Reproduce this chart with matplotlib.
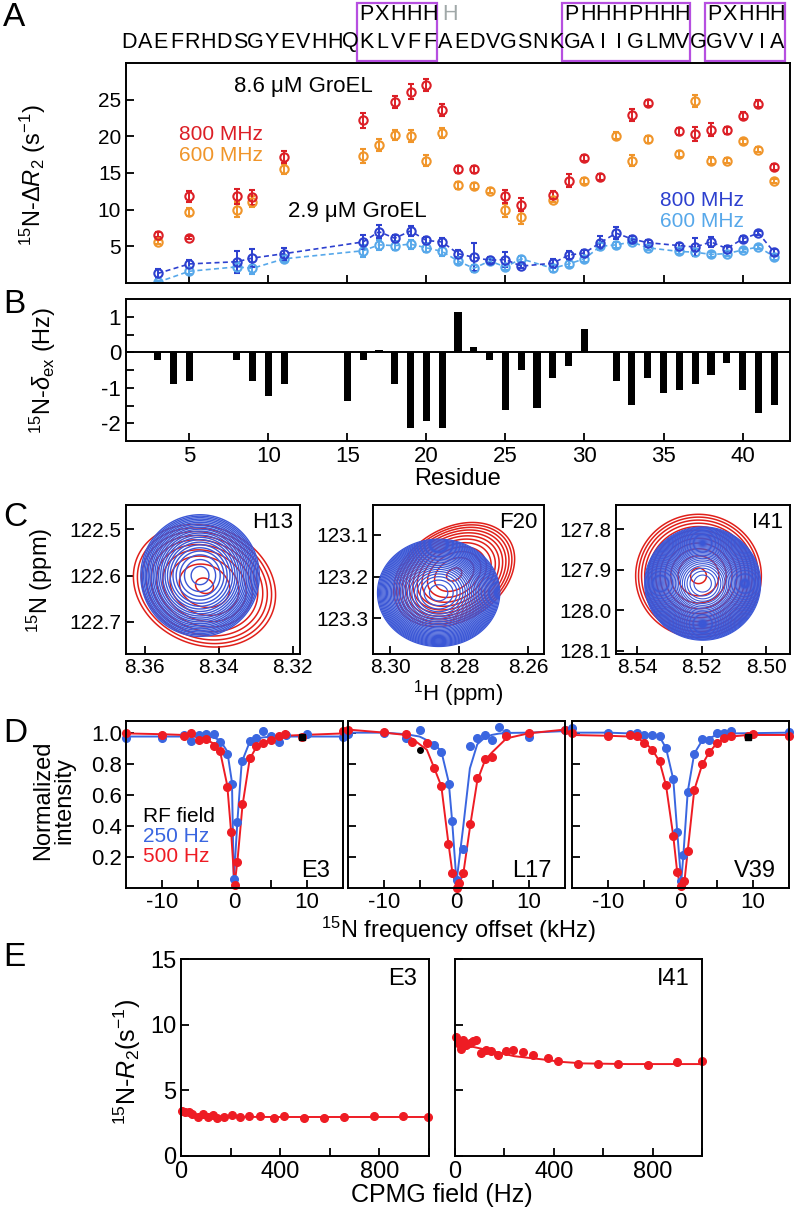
import numpy as np
import matplotlib
matplotlib.use("Agg")
import matplotlib.pyplot as plt
from matplotlib.patches import Rectangle
from matplotlib.transforms import blended_transform_factory

REG = ["Liberation Sans", "DejaVu Sans"]
plt.rcParams["font.family"] = REG
plt.rcParams["mathtext.fontset"] = "custom"
plt.rcParams["mathtext.rm"] = "Liberation Sans"
plt.rcParams["mathtext.it"] = "Liberation Sans:italic"
plt.rcParams["axes.unicode_minus"] = False
plt.rcParams["axes.linewidth"] = 1.4
plt.rcParams["xtick.direction"] = "in"
plt.rcParams["ytick.direction"] = "in"
plt.rcParams["xtick.major.width"] = 1.3
plt.rcParams["ytick.major.width"] = 1.3
plt.rcParams["xtick.minor.width"] = 1.3
plt.rcParams["ytick.minor.width"] = 1.3

# ---------------- data ----------------
# A: sequence and motifs
seq = "DAEFRHDSGYEVHHQKLVFFAEDVGSNKGAIIGLMVGGVVIA"
motif_start = [16, 29, 38]
motif_end = [20, 36, 42]
motif_code = ["PXHHH", "PHHHPHHH", "PXHHH"]
extra_code_res = 21

# A: 8.6 uM GroEL
res_hi_800 = [3, 5, 5, 8, 9, 11, 16, 18, 19, 20, 21, 22, 23, 25, 26, 28, 29, 30, 31,
              33, 34, 36, 37, 38, 39, 40, 41, 42]
r2_hi_800 = [6.6, 11.8, 6.2, 11.8, 11.7, 17.2, 22.2, 24.7, 26.1, 27.0, 23.6, 15.5, 15.5,
             11.8, 10.7, 12.0, 13.95, 17.0, 14.4, 22.95, 24.6, 20.7, 20.3, 20.9, 20.8,
             22.8, 24.45, 15.8]
err_hi_800 = [0.3, 0.7, 0.2, 1.0, 1.0, 0.8, 1.0, 0.8, 1.0, 0.8, 0.8, 0.5, 0.5, 0.9, 0.9,
              0.5, 0.9, 0.4, 0.4, 0.8, 0.4, 0.5, 1.0, 0.9, 0.5, 0.5, 0.5, 0.4]
res_hi_600 = [3, 5, 8, 9, 11, 16, 17, 18, 19, 20, 21, 22, 23, 24, 25, 26, 28, 30,
              32, 33, 34, 36, 37, 38, 39, 40, 41, 42]
r2_hi_600 = [5.6, 9.7, 10.0, 11.1, 15.5, 17.3, 18.8, 20.2, 20.0, 16.7, 20.5, 13.3, 13.2,
             12.6, 9.9, 9.0, 11.3, 13.9, 20.1, 16.7, 19.6, 17.6, 24.8, 16.7, 16.7, 19.3,
             18.2, 13.9]
err_hi_600 = [0.3, 0.5, 1.0, 0.8, 0.7, 1.0, 0.8, 0.7, 0.8, 0.8, 0.7, 0.5, 0.4, 0.3, 0.9,
              0.9, 0.3, 0.4, 0.5, 0.8, 0.5, 0.4, 0.8, 0.5, 0.4, 0.4, 0.4, 0.3]

# A: 2.9 uM GroEL
res_lo = [3, 5, 8, 9, 11, 16, 17, 18, 19, 20, 21, 22, 23, 24, 25, 26, 28, 29, 30, 31,
          32, 33, 34, 36, 37, 38, 39, 40, 41, 42]
r2_lo_800 = [1.3, 2.6, 2.9, 3.4, 4.0, 5.6, 7.0, 6.1, 7.1, 5.8, 5.6, 4.0, 3.5, 3.1, 3.2,
             2.3, 2.7, 3.8, 4.1, 5.5, 6.8, 6.0, 5.5, 5.1, 4.9, 5.6, 4.7, 6.0, 6.8, 4.2]
err_lo_800 = [0.6, 0.6, 1.5, 1.2, 0.8, 1.0, 0.9, 0.5, 0.7, 0.5, 0.6, 0.5, 1.9, 0.4, 1.0,
              0.3, 0.6, 0.5, 0.4, 0.9, 0.8, 0.4, 0.3, 0.3, 1.2, 0.7, 0.3, 0.4, 0.3, 0.4]
r2_lo_600 = [0.1, 1.6, 2.2, 2.0, 3.3, 4.4, 5.2, 5.1, 5.3, 4.8, 4.3, 3.0, 2.0, 3.0, 2.2,
             3.3, 2.0, 2.6, 3.3, 5.0, 5.2, 5.6, 4.8, 4.3, 4.2, 3.9, 4.0, 4.5, 4.9, 3.6]
err_lo_600 = [0.2, 0.4, 0.6, 0.8, 0.5, 0.8, 0.7, 0.6, 0.6, 0.6, 0.6, 0.4, 0.5, 0.3, 0.4,
              0.4, 0.5, 0.4, 0.4, 0.5, 0.4, 0.3, 0.3, 0.3, 0.5, 0.3, 0.3, 0.3, 0.3, 0.4]

# B: 15N delta_ex
res_b = [3, 4, 5, 8, 9, 10, 11, 15, 16, 17, 18, 19, 20, 21, 22, 23, 24, 25, 26, 27, 28,
         29, 30, 32, 33, 34, 35, 36, 37, 38, 39, 40, 41, 42]
dex_b = [-0.22, -0.9, -0.8, -0.22, -0.8, -1.22, -0.9, -1.38, -0.22, 0.07, -0.9, -2.12,
         -1.95, -2.12, 1.13, 0.15, -0.22, -1.63, -0.5, -1.57, -0.72, -0.4, 0.65, -0.8,
         -1.48, -0.72, -1.15, -1.07, -0.9, -0.65, -0.3, -1.07, -1.72, -1.48]

# C: HSQC peaks (800 MHz) -- red: with GroEL, blue: reference
c_names = ["H13", "F20", "I41"]
c_xlim = [(8.365, 8.318), (8.305, 8.2555), (8.5466, 8.4926)]
c_ylim = [(122.769, 122.448), (123.386, 123.028), (128.108, 127.74)]
c_xticks = [[8.36, 8.34, 8.32], [8.30, 8.28, 8.26], [8.54, 8.52, 8.50]]
c_yticks = [[122.5, 122.6, 122.7], [123.1, 123.2, 123.3], [127.8, 127.9, 128.0, 128.1]]
blue_h0 = [8.3450, 8.2860, 8.5197]
blue_n0 = [122.600, 123.239, 127.934]
blue_hw_h = [0.0160, 0.0177, 0.0180]
blue_hw_n = [0.131, 0.129, 0.140]
blue_nlev = [22, 30, 40]
red_h0 = [8.3438, 8.2815, 8.5210]
red_n0 = [122.622, 123.195, 127.915]
red_hw_h = [0.0192, 0.0175, 0.0195]
red_hw_n = [0.132, 0.125, 0.152]
red_rho = [-0.15, 0.3, 0.0]
red_nlev = [10, 12, 12]

# D: CEST profiles
d_names = ["E3", "L17", "V39"]
d_off_blue = [
    [-15, -10, -7, -6, -4.9, -3.9, -2.9, -2, -1, -0.35, -0.1, 0.4, 1.0, 2.1, 3.0, 4.0, 5.0, 6.1, 7.1, 10, 15],
    [-15, -10, -7, -5.1, -3.15, -2.1, -1.07, -0.6, 0, 0.92, 1.85, 2.87, 3.9, 4.85, 5.87, 6.9, 10, 15],
    [-15, -10, -7, -6, -5, -3.9, -2.9, -2, -1, -0.45, 0.1, 0.4, 1.0, 1.9, 3.0, 4.0, 5.0, 6.0, 7.0, 15],
]
d_int_blue = [
    [0.968, 0.963, 0.985, 0.946, 0.985, 0.99, 0.99, 0.94, 0.865, 0.67, 0.06, 0.426, 0.82, 0.946, 0.963, 1.01, 0.978, 0.94, 0.985, 0.99, 0.97],
    [0.99, 1.0, 0.963, 1.015, 0.92, 0.877, 0.67, 0.43, 0.054, 0.25, 0.914, 0.963, 0.985, 0.95, 1.037, 1.0, 0.97, 1.015],
    [1.03, 1.0, 0.994, 1.0, 0.985, 0.985, 0.978, 0.903, 0.703, 0.36, 0.043, 0.215, 0.62, 0.865, 0.957, 0.95, 1.0, 1.0, 1.01, 1.006],
]
d_fit_blue = [
    [0.975, 0.975, 0.975, 0.975, 0.975, 0.973, 0.97, 0.95, 0.88, 0.68, 0.04, 0.43, 0.81, 0.94, 0.96, 0.97, 0.973, 0.975, 0.975, 0.975, 0.975],
    [1.0, 1.0, 0.99, 0.975, 0.93, 0.88, 0.68, 0.43, 0.04, 0.39, 0.77, 0.925, 0.968, 0.985, 0.994, 0.998, 1.0, 1.01],
    [1.0, 1.0, 0.995, 0.993, 0.99, 0.985, 0.975, 0.9, 0.7, 0.36, 0.04, 0.215, 0.62, 0.865, 0.95, 0.965, 0.985, 0.99, 0.995, 1.0],
]
d_off_red = [
    [-15, -10, -7, -6, -4.9, -3.9, -2.9, -2, -1, -0.45, 0, 0.4, 1.1, 2.1, 3.0, 4.0, 5.0, 6.1, 7.0, 9.3, 15],
    [-15, -10, -7, -6.1, -4.1, -3.15, -2.1, -1.15, -0.6, 0, 0.33, 0.92, 1.93, 2.87, 3.9, 4.85, 6.9, 10, 15],
    [-15, -10, -7, -6, -5, -3.9, -2.9, -2, -1, -0.45, 0, 0.55, 1.0, 1.9, 3.0, 4.0, 5.0, 6.0, 7.0, 9.3, 10, 15],
]
d_int_red = [
    [1.0, 0.985, 0.978, 1.0, 0.953, 0.96, 0.914, 0.88, 0.65, 0.36, 0.017, 0.17, 0.54, 0.834, 0.914, 0.935, 0.95, 0.98, 0.994, 0.97, 1.01],
    [1.02, 1.006, 0.99, 0.94, 0.935, 0.774, 0.656, 0.284, 0.097, 0.0, 0.032, 0.097, 0.413, 0.705, 0.828, 0.843, 0.98, 1.0, 1.02],
    [1.0, 0.978, 0.985, 0.978, 0.935, 0.888, 0.817, 0.662, 0.333, 0.103, 0.01, 0.043, 0.24, 0.634, 0.796, 0.877, 0.935, 0.963, 0.978, 0.978, 0.994, 0.978],
]
d_fit_red = [
    [0.995, 0.99, 0.985, 0.98, 0.97, 0.955, 0.93, 0.88, 0.66, 0.35, 0.02, 0.17, 0.53, 0.83, 0.905, 0.935, 0.955, 0.97, 0.98, 0.985, 0.995],
    [1.02, 1.0, 0.985, 0.96, 0.89, 0.78, 0.656, 0.3, 0.11, 0.0, 0.03, 0.086, 0.413, 0.69, 0.817, 0.87, 0.963, 0.996, 1.02],
    [0.985, 0.98, 0.975, 0.965, 0.94, 0.89, 0.815, 0.66, 0.335, 0.1, 0.01, 0.045, 0.24, 0.63, 0.795, 0.875, 0.93, 0.96, 0.975, 0.985, 0.985, 0.985],
]
d_black_x = [9.3, -5.1, 9.3]
d_black_y = [0.975, 0.89, 0.975]
d_black_marker = ["s", "o", "s"]

# E: CPMG relaxation dispersion
e_names = ["E3", "I41"]
e_cpmg = [
    [4, 18, 32, 46, 67, 87, 108, 129, 147, 175, 206, 237, 275, 317, 376, 417, 497, 576, 657, 778, 896, 997],
    [3, 14, 24, 33, 45, 59, 73, 86, 105, 126, 145, 174, 205, 236, 275, 317, 377, 417, 498, 579, 658, 780, 898, 1000],
]
e_r2 = [
    [3.46, 3.38, 3.33, 3.2, 2.95, 3.2, 2.95, 3.15, 2.9, 2.95, 3.13, 2.95, 3.08, 3.03, 2.9, 3.08, 2.9, 2.9, 2.95, 3.05, 3.08, 3.0],
    [9.05, 8.6, 8.15, 8.85, 8.46, 8.6, 8.72, 8.8, 7.87, 8.08, 8.03, 7.7, 8.03, 8.08, 7.95, 7.7, 7.5, 7.23, 6.97, 7.0, 6.97, 6.92, 7.13, 7.23],
]
e_fit_x = [0, 100, 240, 380, 420, 520, 700, 1000]
e_fit = [
    [3.15, 3.0, 2.98, 2.97, 2.97, 2.97, 2.97, 2.97],
    [8.6, 8.2, 7.6, 7.3, 7.18, 7.05, 7.0, 7.0],
]

# ---------------- colours ----------------
RED = "#dc1f26"
ORANGE = "#f0952a"
BLUE = "#2d40cf"
LBLUE = "#57a8ea"
C_RED = "#e0201a"
C_BLUE = "#3b57d6"
D_RED = "#ee1c24"
D_BLUE = "#3a66e0"
PURPLE = "#b64fe0"

W, H = 796, 1208
fig = plt.figure(figsize=(W / 100, H / 100), dpi=100)


def box(l, t, r, b):
    return [l / W, 1 - b / H, (r - l) / W, (b - t) / H]


def fx(x):
    return x / W


def fy(y):
    return 1 - y / H


for lab, y in zip("ABCDE", [17, 305, 517, 733, 957]):
    fig.text(fx(3), fy(y), lab, fontsize=24, ha="left", va="center")

# ---------------- A ----------------
ax = fig.add_axes(box(126, 63, 790, 283))
ekw = dict(fmt="o", mfc="none", ms=6, mew=1.5, capsize=2.5, elinewidth=1.4, capthick=1.4)
ax.errorbar(res_hi_600, r2_hi_600, yerr=err_hi_600, color=ORANGE, **ekw)
ax.errorbar(res_hi_800, r2_hi_800, yerr=err_hi_800, color=RED, **ekw)
ax.errorbar(res_lo, r2_lo_600, yerr=err_lo_600, color=LBLUE, ls=(0, (3, 2)), lw=1.2, **ekw)
ax.errorbar(res_lo, r2_lo_800, yerr=err_lo_800, color=BLUE, ls=(0, (3, 2)), lw=1.2, **ekw)
ax.set_xlim(1, 43)
ax.set_ylim(0, 30)
ax.set_xticks(range(5, 45, 5))
ax.set_xticklabels([])
ax.set_yticks([5, 10, 15, 20, 25])
ax.tick_params(labelsize=15, length=6)
ax.text(12.2, 26.8, "8.6 \u03bcM GroEL", fontsize=16, ha="center", va="center")
ax.text(7.0, 20.2, "800 MHz", fontsize=15, color=RED, ha="center", va="center")
ax.text(7.0, 17.4, "600 MHz", fontsize=15, color=ORANGE, ha="center", va="center")
ax.text(15.6, 9.8, "2.9 \u03bcM GroEL", fontsize=16, ha="center", va="center")
ax.text(37.4, 11.2, "800 MHz", fontsize=15, color=BLUE, ha="center", va="center")
ax.text(37.4, 8.4, "600 MHz", fontsize=15, color=LBLUE, ha="center", va="center")
fig.text(fx(33), fy(175), r"$^{15}$N-$\Delta$$\it{R}$$_2$ (s$^{-1}$)", rotation=90,
         fontsize=17, ha="center", va="center")

# sequence header
tr = blended_transform_factory(ax.transData, fig.transFigure)
for i, ch in enumerate(seq):
    ax.text(i + 1.2, fy(42), ch, transform=tr, fontsize=15.5, ha="center", va="center",
            clip_on=False)
for s, e, code in zip(motif_start, motif_end, motif_code):
    for k, ch in enumerate(code):
        ax.text(s + k + 0.2, fy(15), ch, transform=tr, fontsize=15.5, ha="center",
                va="center", clip_on=False)
    ax.add_patch(Rectangle((s - 0.4, fy(61)), e - s + 1.1, fy(3) - fy(61), transform=tr,
                           fill=False, ec=PURPLE, lw=1.6, clip_on=False))
ax.text(extra_code_res + 0.5, fy(15), "H", transform=tr, fontsize=15.5, ha="center",
        va="center", color="#a0a8a8", clip_on=False)

# ---------------- B ----------------
ax = fig.add_axes(box(126, 299, 790, 441))
ax.bar(res_b, dex_b, width=0.45, color="black")
ax.axhline(0, color="black", lw=1.4)
ax.set_xlim(1, 43)
ax.set_ylim(-2.5, 1.5)
ax.set_xticks(range(5, 45, 5))
ax.set_yticks([-2, -1, 0, 1])
ax.set_yticks([-1.5, -0.5, 0.5], minor=True)
ax.tick_params(which="both", labelsize=16, length=6)
ax.set_xlabel("Residue", fontsize=17, labelpad=1)
fig.text(fx(43), fy(370), r"$^{15}$N-$\delta_{\rm ex}$ (Hz)", rotation=90, fontsize=17,
         ha="center", va="center")

# ---------------- C ----------------
c_boxes = [(126, 505, 300, 654), (373, 505, 544, 654), (616, 505, 790, 654)]
blue_lw = [1.0, 0.9, 0.8]
lowest = 0.04
r0 = np.sqrt(2 * np.log(1 / lowest))
for j in range(3):
    ax = fig.add_axes(box(*c_boxes[j]))
    hh, nn = np.meshgrid(np.linspace(c_xlim[j][1], c_xlim[j][0], 300),
                         np.linspace(c_ylim[j][1], c_ylim[j][0], 300))
    u = (hh - blue_h0[j]) / (blue_hw_h[j] / r0)
    v = (nn - blue_n0[j]) / (blue_hw_n[j] / r0)
    zb = np.exp(-(u * u + v * v) / 2)
    u = (hh - red_h0[j]) / (red_hw_h[j] / r0)
    v = (nn - red_n0[j]) / (red_hw_n[j] / r0)
    rho = red_rho[j]
    zr = np.exp(-(u * u - 2 * rho * u * v + v * v) / (2 * (1 - rho ** 2)))
    ax.contour(hh, nn, zr, levels=np.geomspace(lowest, 0.95, red_nlev[j]),
               colors=C_RED, linewidths=1.1)
    ax.contour(hh, nn, zb, levels=np.geomspace(lowest, 0.93, blue_nlev[j]),
               colors=C_BLUE, linewidths=blue_lw[j])
    ax.set_xlim(*c_xlim[j])
    ax.set_ylim(*c_ylim[j])
    ax.set_xticks(c_xticks[j])
    ax.set_xticklabels(["%.2f" % t for t in c_xticks[j]])
    ax.set_yticks(c_yticks[j])
    ax.set_yticklabels(["%.1f" % t for t in c_yticks[j]])
    ax.tick_params(which="both", labelsize=15, length=6, pad=3)
    ax.text(0.96, 0.95, c_names[j], transform=ax.transAxes, fontsize=16, ha="right",
            va="top")
fig.text(fx(458), fy(694), r"$^{1}$H (ppm)", fontsize=16, ha="center", va="center")
fig.text(fx(40), fy(580), r"$^{15}$N (ppm)", rotation=90, fontsize=17, ha="center",
         va="center")

# ---------------- D ----------------
d_boxes = [(126, 721, 343, 888), (348, 721, 565, 888), (572, 721, 789, 888)]
for j in range(3):
    ax = fig.add_axes(box(*d_boxes[j]))
    ax.plot(d_off_blue[j], d_fit_blue[j], color=D_BLUE, lw=1.4)
    ax.plot(d_off_red[j], d_fit_red[j], color=D_RED, lw=1.4)
    ax.plot(d_off_blue[j], d_int_blue[j], "o", color=D_BLUE, ms=5.5, clip_on=False)
    ax.plot(d_off_red[j], d_int_red[j], "o", color=D_RED, ms=5.5, clip_on=False)
    ax.plot(d_black_x[j], d_black_y[j], d_black_marker[j], color="black", ms=4)
    ax.set_xlim(-15, 15)
    ax.set_ylim(0, 1.075)
    ax.set_xticks([-10, 0, 10])
    ax.set_xticks([-5, 5], minor=True)
    ax.set_yticks([0.2, 0.4, 0.6, 0.8, 1.0])
    ax.tick_params(which="both", labelsize=16, length=6, pad=3)
    if j > 0:
        ax.set_yticklabels([])
    ax.text(0.94, 0.1, d_names[j], transform=ax.transAxes, fontsize=17, ha="right",
            va="center")
    if j == 0:
        ax.text(0.08, 0.43, "RF field", transform=ax.transAxes, fontsize=15,
                va="center")
        ax.text(0.08, 0.31, "250 Hz", transform=ax.transAxes, fontsize=15,
                va="center", color=D_BLUE)
        ax.text(0.08, 0.19, "500 Hz", transform=ax.transAxes, fontsize=15,
                va="center", color=D_RED)
fig.text(fx(54), fy(800), "Normalized\nintensity", rotation=90, fontsize=17,
         ha="center", va="center", linespacing=0.95)
fig.text(fx(458), fy(930), r"$^{15}$N frequency offset (kHz)", fontsize=17,
         ha="center", va="center")

# ---------------- E ----------------
e_boxes = [(181, 959, 429, 1156), (455, 959, 702, 1156)]
for j in range(2):
    ax = fig.add_axes(box(*e_boxes[j]))
    ax.plot(e_fit_x, e_fit[j], color=D_RED, lw=1.4)
    ax.plot(e_cpmg[j], e_r2[j], "o", color=D_RED, ms=5.5, clip_on=False)
    ax.set_xlim(0, 1000)
    ax.set_ylim(0, 15)
    ax.set_xticks([0, 400, 800])
    ax.set_xticks([200, 600, 1000], minor=True)
    ax.set_yticks([0, 5, 10, 15])
    ax.tick_params(which="both", labelsize=17, length=6)
    if j > 0:
        ax.set_yticklabels([])
    ax.text(0.95, 0.9, e_names[j], transform=ax.transAxes, fontsize=17, ha="right",
            va="center")
fig.text(fx(127), fy(1062), r"$^{15}$N-$\it{R}$$_2$(s$^{-1}$)", rotation=90, fontsize=18,
         ha="center", va="center")
fig.text(fx(442), fy(1195), "CPMG field (Hz)", fontsize=18, ha="center", va="center")

fig.savefig("out.png", dpi=100)
